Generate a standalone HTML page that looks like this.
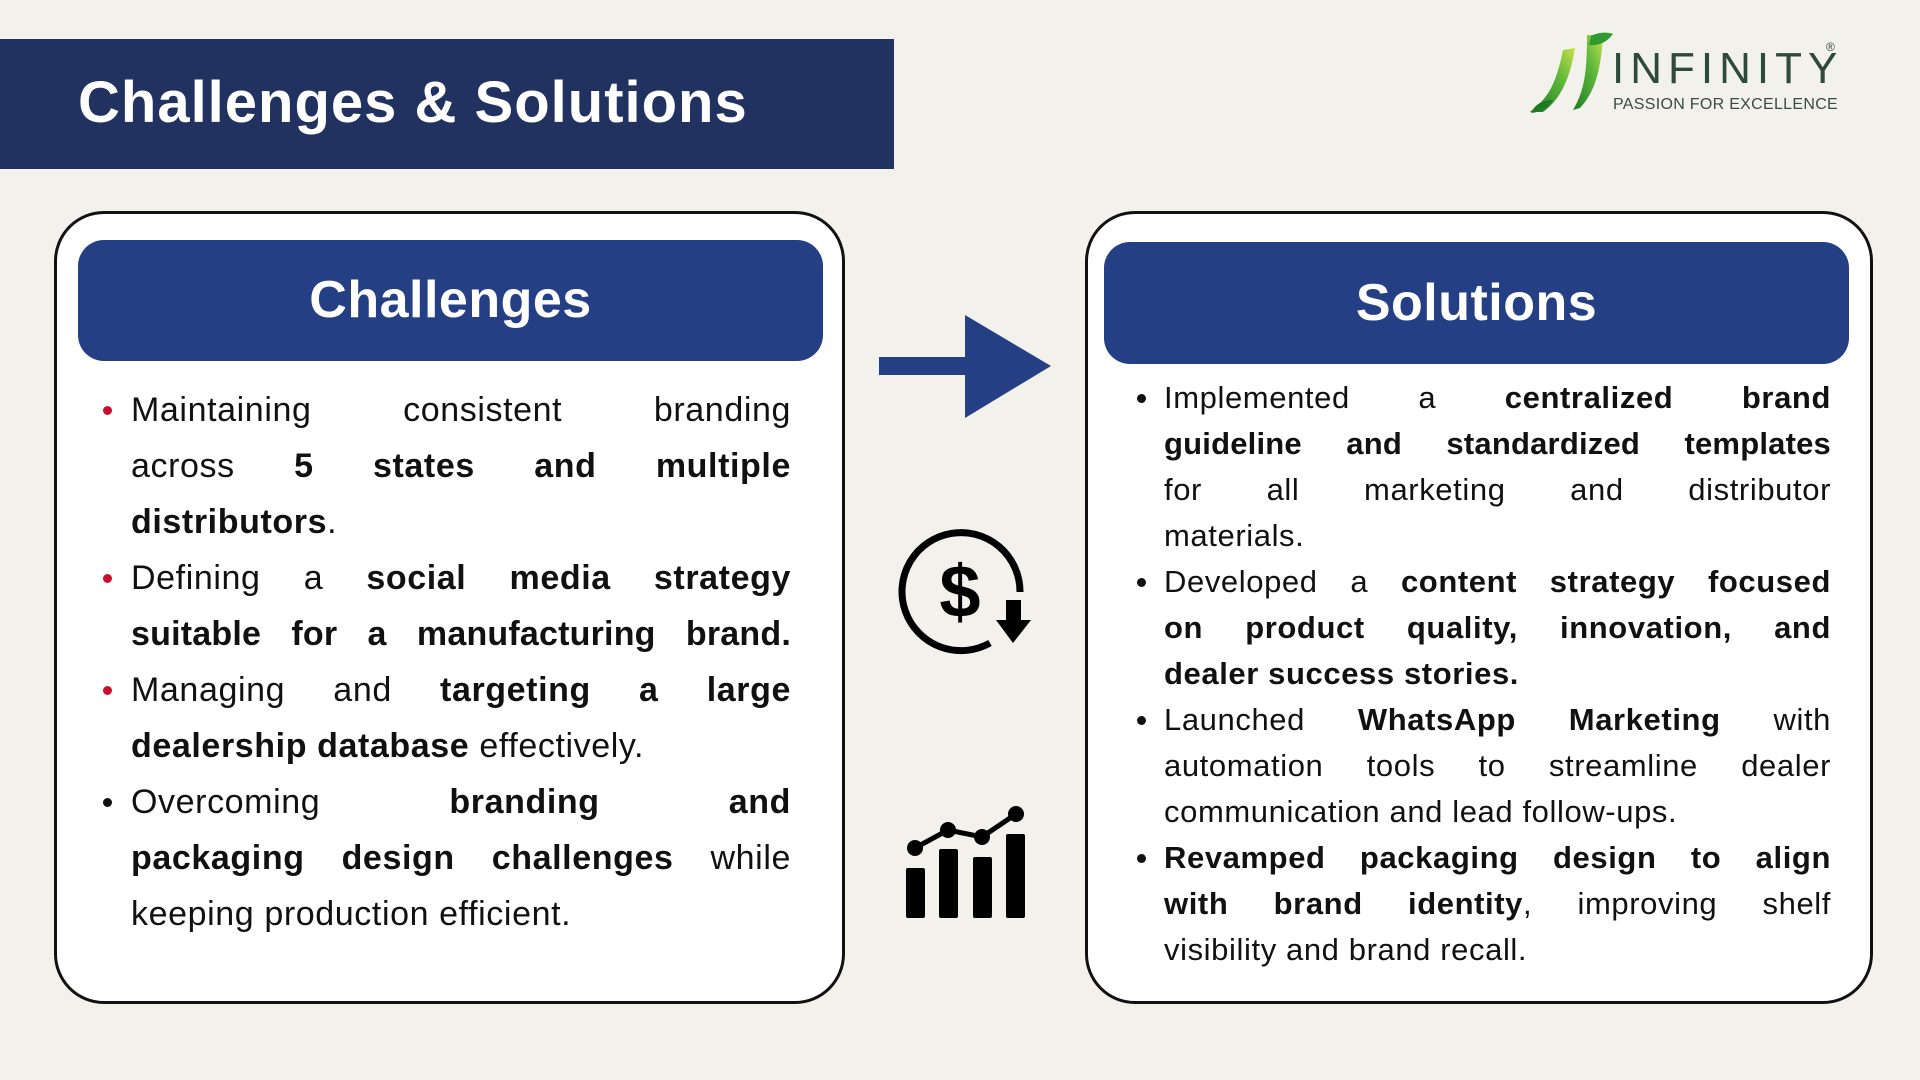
<!DOCTYPE html>
<html><head><meta charset="utf-8"><style>
*{margin:0;padding:0;box-sizing:border-box}
body{width:1920px;height:1080px;background:#f3f1ec;position:relative;overflow:hidden;font-family:"Liberation Sans",sans-serif;color:#111}
.titlebar{position:absolute;left:0;top:39px;width:894px;height:130px;background:#223260}
.titlebar span{position:absolute;left:78px;top:30px;font-size:58px;font-weight:bold;color:#fff;letter-spacing:1px}
.card{position:absolute;border:3.5px solid #111;border-radius:50px;background:#fff}
.hdr{position:absolute;background:#253f85;border-radius:26px;color:#fff;font-weight:bold;font-size:52px;text-align:center;letter-spacing:0.5px}
.l{position:absolute;white-space:nowrap}
.j{text-align:justify;text-align-last:justify;white-space:normal}
.dot{position:absolute;width:9px;height:9px;border-radius:50%}
</style></head><body>
<div class="titlebar"><span>Challenges &amp; Solutions</span></div>

<svg style="position:absolute;left:1525px;top:30px" width="90" height="88" viewBox="0 0 90 88">
<defs><linearGradient id="g" x1="0" y1="1" x2="1" y2="0"><stop offset="0" stop-color="#1e7a22"/><stop offset="0.6" stop-color="#5db83a"/><stop offset="1" stop-color="#c8e04a"/></linearGradient></defs>
<path d="M5 82 C20 70 30 60 38 20 L50 18 C44 55 32 72 18 82 Z" fill="url(#g)"/>
<path d="M48 80 C60 60 62 40 62 5 L78 5 C76 40 70 62 55 78 Z" fill="url(#g)"/>
<path d="M66 6 C74 2 82 2 88 4 C82 12 74 16 64 15 Z" fill="#2e9a30"/>
<path d="M6 83 C10 74 18 70 28 70 C24 78 16 82 6 83 Z" fill="#1e7a22"/>
</svg>
<div class="l" style="left:1612px;top:44px;font-size:44px;color:#2d4a3a;letter-spacing:6px">INFINITY</div>
<div class="l" style="left:1826px;top:40px;font-size:12px;color:#2d4a3a">®</div>
<div class="l" style="left:1613px;top:96px;font-size:16px;color:#3a4a44;letter-spacing:0.3px">PASSION FOR EXCELLENCE</div>

<div class="card" style="left:54px;top:211px;width:791px;height:793px"></div>
<div class="hdr" style="left:78px;top:240px;width:745px;height:121px;line-height:121px">Challenges</div>
<div class="card" style="left:1085px;top:211px;width:788px;height:793px"></div>
<div class="hdr" style="left:1104px;top:242px;width:745px;height:122px;line-height:122px">Solutions</div>

<svg style="position:absolute;left:870px;top:310px" width="190" height="115"><rect x="9" y="47" width="90" height="18" fill="#253f85"/><polygon points="95,5 181,56 95,108" fill="#253f85"/></svg>

<svg style="position:absolute;left:890px;top:520px" width="160" height="145" viewBox="890 520 160 145">
<path d="M1020 592 A59 59 0 1 0 990 643" fill="none" stroke="#000" stroke-width="7"/>
<rect x="1006" y="600" width="15" height="22" fill="#000"/>
<polygon points="996,620 1031,620 1013,643" fill="#000"/>
<text x="960" y="617" font-family="Liberation Sans" font-weight="bold" font-size="74" text-anchor="middle" fill="#000">$</text>
</svg>

<svg style="position:absolute;left:890px;top:800px" width="150" height="130" viewBox="890 800 150 130">
<rect x="906" y="868" width="19" height="50" rx="2" fill="#000"/>
<rect x="939" y="849" width="19" height="69" rx="2" fill="#000"/>
<rect x="973" y="857" width="19" height="61" rx="2" fill="#000"/>
<rect x="1006" y="834" width="19" height="84" rx="2" fill="#000"/>
<polyline points="915,848 948,830 982,837 1016,814" fill="none" stroke="#000" stroke-width="5"/>
<circle cx="915" cy="848" r="8"/><circle cx="948" cy="830" r="8"/><circle cx="982" cy="837" r="8"/><circle cx="1016" cy="814" r="8"/>
</svg>

<div style="position:absolute;left:131px;top:382px;width:660px;font-size:34px;line-height:56px;letter-spacing:0.6px">
<div class="j">Maintaining consistent branding</div>
<div class="j">across <b>5 states and multiple</b></div>
<div><b>distributors</b>.</div>
<div class="j">Defining a <b>social media strategy</b></div>
<div class="j" style="letter-spacing:0.2px"><b>suitable for a manufacturing brand.</b></div>
<div class="j">Managing and <b>targeting a large</b></div>
<div><b>dealership database</b> effectively.</div>
<div class="j">Overcoming <b>branding and</b></div>
<div class="j"><b>packaging design challenges</b> while</div>
<div>keeping production efficient.</div>
</div>
<div class="dot" style="left:103px;top:406px;background:#c8102e"></div>
<div class="dot" style="left:103px;top:574px;background:#c8102e"></div>
<div class="dot" style="left:103px;top:686px;background:#c8102e"></div>
<div class="dot" style="left:103px;top:798px;background:#111"></div>

<div style="position:absolute;left:1164px;top:375px;width:667px;font-size:31px;line-height:46px;letter-spacing:0.6px">
<div class="j">Implemented a <b>centralized brand</b></div>
<div class="j" style="letter-spacing:0.2px"><b>guideline and standardized templates</b></div>
<div class="j">for all marketing and distributor</div>
<div>materials.</div>
<div class="j">Developed a <b>content strategy focused</b></div>
<div class="j"><b>on product quality, innovation, and</b></div>
<div><b>dealer success stories.</b></div>
<div class="j">Launched <b>WhatsApp Marketing</b> with</div>
<div class="j">automation tools to streamline dealer</div>
<div>communication and lead follow-ups.</div>
<div class="j"><b>Revamped packaging design to align</b></div>
<div class="j"><b>with brand identity</b>, improving shelf</div>
<div>visibility and brand recall.</div>
</div>
<div class="dot" style="left:1137px;top:394px;background:#111"></div>
<div class="dot" style="left:1137px;top:578px;background:#111"></div>
<div class="dot" style="left:1137px;top:716px;background:#111"></div>
<div class="dot" style="left:1137px;top:854px;background:#111"></div>
</body></html>
